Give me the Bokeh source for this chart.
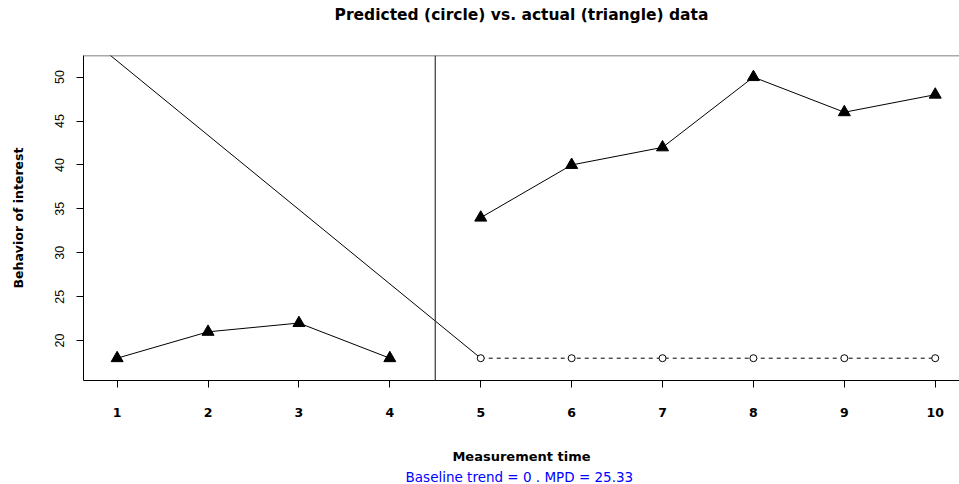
from bokeh.plotting import figure
from bokeh.models import Range1d, Span, Title
from bokeh.embed import file_html
from bokeh.resources import INLINE

# ---- data ----
time_a = [1, 2, 3, 4]
actual_a = [18, 21, 22, 18]
time_b = [5, 6, 7, 8, 9, 10]
actual_b = [34, 40, 42, 50, 46, 48]
predicted_b = [18, 18, 18, 18, 18, 18]
phase_change = 4.5
trend_x = [0.5, 5]
trend_y = [56.07, 18]
x_ticks = [1, 2, 3, 4, 5, 6, 7, 8, 9, 10]
y_ticks = [20, 25, 30, 35, 40, 45, 50]

title_text = "Predicted (circle) vs. actual (triangle) data"
x_label = "Measurement time"
y_label = "Behavior of interest"
subtitle = "Baseline trend = 0 . MPD =  25.33"

WIDE = "DejaVu Sans"
NARROW = "Liberation Sans"

p = figure(width=959, height=484, output_backend="svg", toolbar_location=None,
           x_range=Range1d(0.63, 10.267), y_range=Range1d(15.46, 52.46),
           min_border_left=83, min_border_right=0, min_border_top=55,
           min_border_bottom=103)

p.title.text = title_text
p.title.align = "center"
p.title.text_font = WIDE
p.title.text_font_size = "15.5px"
p.title.text_font_style = "bold"
p.title.text_color = "black"
p.title.standoff = 4

# spacer between title and plot frame
p.add_layout(Title(text=" ", text_font_size="1px", standoff=27), "above")

p.outline_line_color = None
p.xgrid.visible = False
p.ygrid.visible = False
p.background_fill_color = "white"
p.border_fill_color = "white"

# x axis
xa = p.xaxis[0]
xa.ticker = x_ticks
xa.major_label_text_font = WIDE
xa.major_label_text_font_size = "12.5px"
xa.major_label_text_font_style = "bold"
xa.major_label_text_color = "black"
xa.major_tick_out = 7
xa.major_tick_in = 0
xa.minor_tick_line_color = None
xa.axis_line_color = "black"
xa.major_tick_line_color = "black"
xa.major_label_standoff = 20
xa.axis_label = x_label
xa.axis_label_text_font = WIDE
xa.axis_label_text_font_size = "13px"
xa.axis_label_text_font_style = "bold"
xa.axis_label_text_color = "black"
xa.axis_label_standoff = 29

# y axis
ya = p.yaxis[0]
ya.ticker = y_ticks
ya.major_label_orientation = "vertical"
ya.major_label_text_font = NARROW
ya.major_label_text_font_size = "12.5px"
ya.major_label_text_color = "black"
ya.major_tick_out = 7
ya.major_tick_in = 0
ya.minor_tick_line_color = None
ya.axis_line_color = "black"
ya.major_tick_line_color = "black"
ya.major_label_standoff = 12
ya.axis_label = y_label
ya.axis_label_text_font = WIDE
ya.axis_label_text_font_size = "12.5px"
ya.axis_label_text_font_style = "bold"
ya.axis_label_text_color = "black"
ya.axis_label_standoff = 27

p.add_layout(Title(text=subtitle, align="center", text_color="blue",
                   text_font=WIDE, text_font_size="13.5px",
                   text_font_style="normal", standoff=0), "below")

# top border line
p.add_layout(Span(location=p.y_range.end, dimension="width",
                  line_color="#555555", line_width=1.5))
# phase change line
p.add_layout(Span(location=phase_change, dimension="height",
                  line_color="#444444", line_width=1.3))

# trend line
p.line(trend_x, trend_y, line_color="black", line_width=1)

# predicted
p.line(time_b, predicted_b, line_color="black", line_width=1, line_dash="4 4")
p.scatter(time_b, predicted_b, marker="circle", size=7, fill_color="white",
          line_color="black", line_width=1)

# actual
p.line(time_a, actual_a, line_color="black", line_width=1)
p.line(time_b, actual_b, line_color="black", line_width=1)
p.scatter(time_a + time_b, actual_a + actual_b, marker="triangle", size=12,
          fill_color="black", line_color="black")

open("out.html", "w").write(file_html(p, INLINE))
